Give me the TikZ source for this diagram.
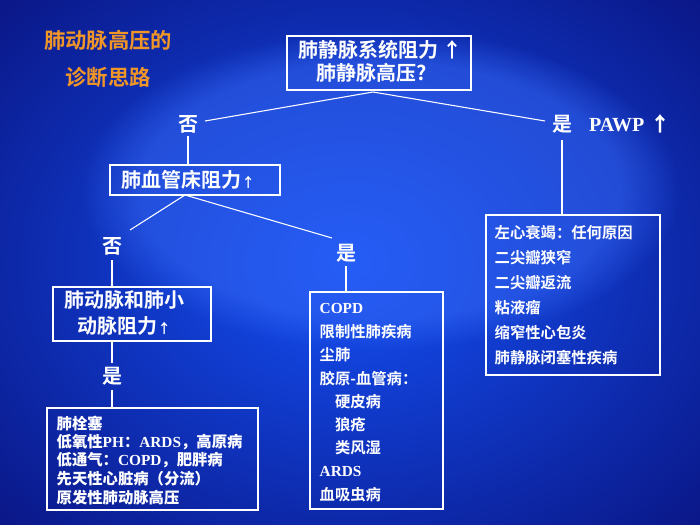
\documentclass[tikz,border=0pt]{standalone}
\usepackage{fontspec}
\setmainfont{Liberation Serif}
\newfontfamily\cjk{Noto Sans CJK SC Bold}
\usetikzlibrary{fadings}
\definecolor{bgdark}{RGB}{8,10,110}
\definecolor{bglight}{RGB}{20,80,245}
\definecolor{ttl}{RGB}{240,150,40}
\begin{document}
\begin{tikzpicture}[x=0.75pt,y=-0.75pt,
  box/.style={draw=white,line width=0.8pt,anchor=north west,inner sep=0pt},
  lbl/.style={text=white,font=\cjk\fontsize{15}{15}\selectfont},
  ln/.style={draw=white,line width=0.8pt}]
\useasboundingbox (0,0) rectangle (700,525);
\shade[inner color=bglight,outer color=bgdark] (-250,-200) rectangle (950,725);
\fill[bglight!85!white,path fading=circle with fuzzy edge 20 percent,opacity=0.5] (380,190) ellipse (300 and 160);
% title
\node[text=ttl,font=\cjk\fontsize{16}{16}\selectfont] (t1) at (108,40) {肺动脉高压的};
\node[text=ttl,font=\cjk\fontsize{16}{16}\selectfont] (t2) at (108,77) {诊断思路};
% boxes
\draw[ln] (287,36) rectangle (471,90);
\coordinate (b1) at (373,92);
\node[lbl,anchor=west] at (294,50) {肺静脉系统阻力\,↑};
\node[lbl,anchor=west] at (312,73) {肺静脉高压?};
\node[lbl] (no1) at (188,124) {否};
\node[lbl] (yes1) at (562,124) {是};
\node[text=white,font=\bfseries\fontsize{15}{15}\selectfont] at (630,124) {PAWP\,\,{\cjk↑}};
\draw[ln] (b1) -- (205,121);
\draw[ln] (b1) -- (545,121);
\draw[ln] (110,165) rectangle (280,195);
\node[lbl,anchor=west] at (117,180) {肺血管床阻力{\fontsize{10}{10}\selectfont↑}};
\draw[ln] (188,136) -- (188,165);
\coordinate (b2) at (185,195);
\node[lbl] (no2) at (112,246) {否};
\node[lbl] (yes2) at (346,253) {是};
\draw[ln] (b2) -- (130,230);
\draw[ln] (b2) -- (332,238);
\draw[ln] (53,287) rectangle (211,341);
\node[lbl,anchor=west] at (60,300) {肺动脉和肺小};
\node[lbl,anchor=west] at (73,326) {动脉阻力{\fontsize{10}{10}\selectfont↑}};
\draw[ln] (112,260) -- (112,287);
\node[lbl] (yes3) at (112,376) {是};
\draw[ln] (112,341) -- (112,363);
\draw[ln] (112,390) -- (112,408);
\draw[ln] (47,408) rectangle (258,510);
\foreach \t [count=\i] in {肺栓塞,低氧性{\rmfamily PH}：{\rmfamily ARDS}，高原病,低通气：{\rmfamily COPD}，肥胖病,先天性心脏病（分流）,原发性肺动脉高压}
  \node[text=white,font=\cjk\fontsize{11.5}{11.5}\selectfont\bfseries,anchor=west] at (52,405+18.5*\i) {\t};
\draw[ln] (346,266) -- (346,292);
\draw[ln] (310,292) rectangle (443,509);
\foreach \t [count=\i] in {{\rmfamily\bfseries COPD},限制性肺疾病,尘肺,胶原-血管病：,\quad 硬皮病,\quad 狼疮,\quad 类风湿,{\rmfamily\bfseries ARDS},血吸虫病}
  \node[text=white,font=\cjk\fontsize{11.5}{11.5}\selectfont,anchor=west] at (315,285+23.3*\i) {\t};
\draw[ln] (562,140) -- (562,215);
\draw[ln] (486,215) rectangle (660,375);
\foreach \t [count=\i] in {左心衰竭：任何原因,二尖瓣狭窄,二尖瓣返流,粘液瘤,缩窄性心包炎,肺静脉闭塞性疾病}
  \node[text=white,font=\cjk\fontsize{11.5}{11.5}\selectfont,anchor=west] at (490,208+25*\i) {\t};
\end{tikzpicture}
\end{document}
